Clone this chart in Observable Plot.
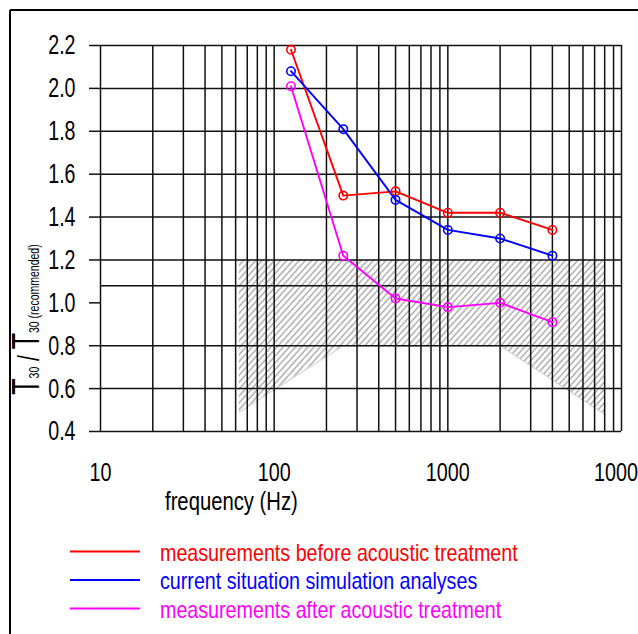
<!DOCTYPE html>
<html>
<head>
<meta charset="utf-8">
<script src="https://cdn.jsdelivr.net/npm/d3@7"></script>
<script src="https://cdn.jsdelivr.net/npm/@observablehq/plot@0.6"></script>
<style>
  html, body { margin: 0; padding: 0; background: #fff; overflow: hidden; }
  #wrap { position: relative; width: 638px; height: 634px; }
  #chart { position: absolute; left: 0; top: 0; }
  #overlay { position: absolute; left: 0; top: 0; pointer-events: none; }
</style>
</head>
<body>
<div id="wrap"><div id="chart"></div></div>
<script>
// ---- data ----
const freqs = [125, 250, 500, 1000, 2000, 4000];
const before = [2.18, 1.50, 1.52, 1.42, 1.42, 1.34];
const simulation = [2.08, 1.81, 1.48, 1.34, 1.30, 1.22];
const after = [2.01, 1.22, 1.02, 0.98, 1.00, 0.91];
const seriesNames = [
  "measurements before acoustic treatment",
  "current situation simulation analyses",
  "measurements after acoustic treatment"
];
const seriesColors = ["#ff0000", "#0000ff", "#ff00ff"];
const seriesValues = [before, simulation, after];

const tolFreq = [63, 250, 2000, 8000];
const tolLower = [0.49, 0.80, 0.80, 0.48];
const tolUpper = [1.20, 1.20, 1.20, 1.20];

const xGrid = [10, 20, 30, 40, 50, 60, 70, 80, 90,
               100, 200, 300, 400, 500, 600, 700, 800, 900,
               1000, 2000, 3000, 4000, 5000, 6000, 7000, 8000, 9000, 10000];
const yGrid = [0.4, 0.6, 0.8, 1.08, 1.2, 1.4, 1.6, 1.8, 2.0, 2.2];
const yTicks = [0.4, 0.6, 0.8, 1.0, 1.2, 1.4, 1.6, 1.8, 2.0, 2.2];
const xTicks = [10, 100, 1000, 10000];

// ---- tables ----
const rows = [];
seriesNames.forEach((s, i) => freqs.forEach((f, j) => rows.push({series: s, f, v: seriesValues[i][j]})));
const tol = tolFreq.map((f, i) => ({f, lo: tolLower[i], hi: tolUpper[i]}));

const FONT = "'Liberation Sans', Arial, Helvetica, sans-serif";

const chart = Plot.plot({
  width: 638,
  height: 525,
  marginLeft: 100,
  marginRight: 17,
  marginTop: 45,
  marginBottom: 94,
  style: {fontFamily: FONT, background: "transparent", overflow: "visible", color: "#000"},
  x: {type: "log", domain: [10, 10000], label: null},
  y: {domain: [0.4, 2.2], label: null},
  color: {domain: seriesNames, range: seriesColors},
  marks: [
    Plot.areaY(tol, {x: "f", y1: "lo", y2: "hi", fill: "url(#hatch)"}),
    Plot.line(tol, {x: "f", y: "lo", stroke: "#c8c8c8", strokeWidth: 1}),
    Plot.ruleX(xGrid, {x: d => d, y1: 0.4, y2: 2.2, stroke: "#111", strokeWidth: 1.5}),
    Plot.ruleY(yGrid, {y: d => d, x1: 10, x2: 10000, stroke: "#111", strokeWidth: 1.5}),
    Plot.axisY(yTicks, {anchor: "left", tickSize: 11, tickPadding: 14, fontSize: 28, strokeWidth: 1.5,
      stroke: "#111", label: null, tickFormat: d3.format(".1f")}),
    Plot.axisX(xTicks, {anchor: "bottom", tickSize: 0, tickPadding: 31, fontSize: 26, label: null,
      tickFormat: d => String(d)}),
    Plot.line(rows, {x: "f", y: "v", stroke: "series", strokeWidth: 1.9}),
    Plot.dot(rows, {x: "f", y: "v", stroke: "series", r: 4.2, strokeWidth: 1.6, fill: "none"})
  ]
});
document.getElementById("chart").appendChild(chart);

// hatch pattern
const svg = d3.select(chart);
const defs = svg.insert("defs", ":first-child");
const pat = defs.append("pattern")
  .attr("id", "hatch")
  .attr("patternUnits", "userSpaceOnUse")
  .attr("width", 4.6).attr("height", 10)
  .attr("patternTransform", "rotate(42)");
pat.append("line").attr("x1", 1).attr("y1", 0).attr("x2", 1).attr("y2", 10)
  .attr("stroke", "#6e6e6e").attr("stroke-width", 0.9);

// condense text
function condense(sel, ratio) {
  sel.each(function () {
    const w = this.getComputedTextLength();
    this.setAttribute("textLength", (w * ratio).toFixed(2));
    this.setAttribute("lengthAdjust", "spacingAndGlyphs");
  });
}
condense(svg.selectAll('g[aria-label="y-axis tick label"] text'), 0.70);
condense(svg.selectAll('g[aria-label="x-axis tick label"] text'), 0.76);

// ---- overlay: frame, titles, legend ----
const ov = d3.select("#wrap").append("svg")
  .attr("id", "overlay").attr("width", 638).attr("height", 634)
  .style("font-family", FONT);
ov.append("line").attr("x1", 10).attr("y1", 10).attr("x2", 638).attr("y2", 10)
  .attr("stroke", "#000").attr("stroke-width", 2);
ov.append("line").attr("x1", 10).attr("y1", 10).attr("x2", 10).attr("y2", 634)
  .attr("stroke", "#000").attr("stroke-width", 2);

const xt = ov.append("text").attr("x", 165).attr("y", 510).attr("font-size", 25).attr("fill", "#000")
  .text("frequency (Hz)");
condense(xt, 0.81);

const yt = ov.append("text").attr("transform", "translate(39,319.5) rotate(-90)")
  .attr("text-anchor", "middle").attr("fill", "#000");
yt.append("tspan").attr("font-size", 38).text("T");
yt.append("tspan").attr("font-size", 15).text("30");
yt.append("tspan").attr("font-size", 30).text(" / ");
yt.append("tspan").attr("font-size", 38).text("T");
yt.append("tspan").attr("font-size", 15).text("30 (recommended)");
condense(yt, 0.70);

const legendY = [551.5, 580, 608.5];
seriesNames.forEach((s, i) => {
  ov.append("line").attr("x1", 70).attr("x2", 140).attr("y1", legendY[i]).attr("y2", legendY[i])
    .attr("stroke", seriesColors[i]).attr("stroke-width", 2);
  const t = ov.append("text").attr("x", 160).attr("y", legendY[i] + 9)
    .attr("font-size", 24).attr("fill", seriesColors[i]).text(s);
  condense(t, 0.82);
});
</script>
</body>
</html>
